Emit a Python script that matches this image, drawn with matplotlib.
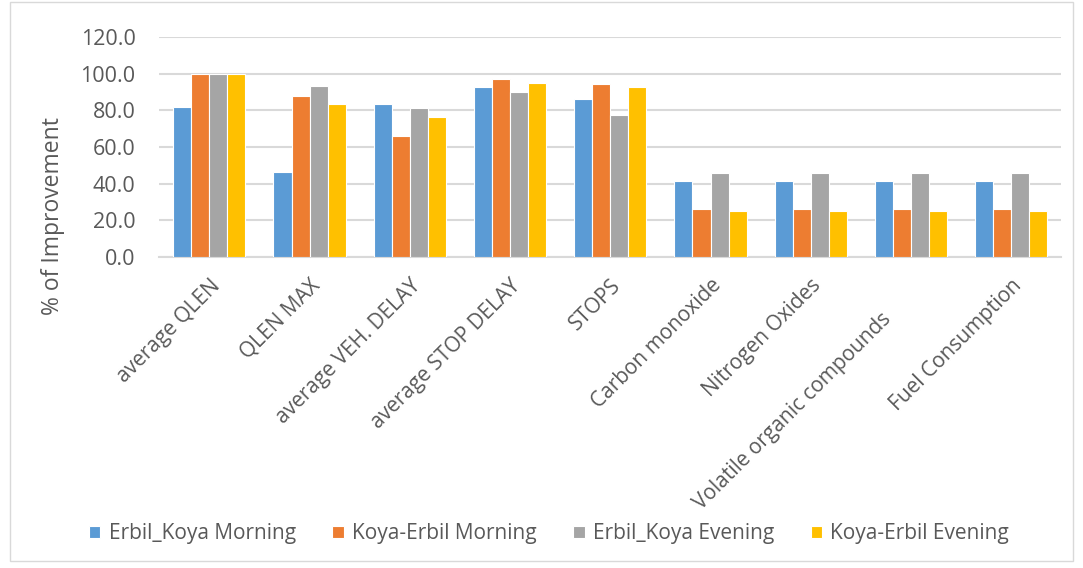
import numpy as np
import matplotlib.pyplot as plt
import matplotlib.transforms as mtransforms
from matplotlib.patches import Rectangle

# data
categories = ['average QLEN', 'QLEN MAX', 'average VEH. DELAY', 'average STOP DELAY',
              'STOPS', 'Carbon monoxide', 'Nitrogen Oxides',
              'Volatile organic compounds', 'Fuel Consumption']
erbil_koya_morning = [81.9, 46.1, 83.5, 92.5, 86.3, 41.3, 41.3, 41.3, 41.3]
koya_erbil_morning = [99.7, 87.8, 65.8, 97.3, 94.1, 26.0, 26.0, 26.0, 26.0]
erbil_koya_evening = [99.7, 93.1, 81.2, 89.8, 77.3, 45.9, 45.9, 45.9, 45.9]
koya_erbil_evening = [99.7, 83.5, 76.4, 94.9, 92.9, 24.9, 24.9, 24.9, 24.9]

series = [('Erbil_Koya Morning', erbil_koya_morning, '#5b9bd5'),
          ('Koya-Erbil Morning', koya_erbil_morning, '#ed7d31'),
          ('Erbil_Koya Evening', erbil_koya_evening, '#a5a5a5'),
          ('Koya-Erbil Evening', koya_erbil_evening, '#ffc000')]

plt.rcParams['font.family'] = ['Open Sans', 'DejaVu Sans']

fig = plt.figure(figsize=(10.83, 5.68), dpi=100)
ax = fig.add_axes([0.147, 0.5475, 0.833, 0.3875])

x = np.arange(len(categories))
w = 0.18
for i, (name, vals, col) in enumerate(series):
    ax.bar(x + (i - 1.5) * w, vals, width=w, color=col, edgecolor='white',
           linewidth=0.8, label=name, zorder=3)

ax.set_xlim(-0.5, len(categories) - 0.5)
ax.set_ylim(0, 120)
ax.set_yticks(np.arange(0, 121, 20))
ax.set_yticklabels(['%.1f' % v for v in np.arange(0, 121, 20)], fontsize=15.5, color='#595959')
ax.set_xticks(x)
ax.set_xticklabels(categories, rotation=45, ha='right', va='top', rotation_mode='anchor',
                   fontsize=15, color='#595959')
ax.tick_params(axis='y', length=0, pad=17)
ax.tick_params(axis='x', length=0, pad=13)
ax.grid(axis='y', color='#d9d9d9', linewidth=1.5, zorder=0)
for s in ['left', 'right', 'top']:
    ax.spines[s].set_visible(False)
ax.spines['bottom'].set_color('#d9d9d9')
ax.spines['bottom'].set_linewidth(1.5)

# excel pushed this long label a bit lower/left
lab = ax.get_xticklabels()[7]
lab.set_transform(lab.get_transform() + mtransforms.ScaledTranslation(-0.3, -0.34, fig.dpi_scale_trans))

fig.text(0.049, 0.62, '% of Improvement', rotation=90, ha='center', va='center',
         fontsize=16.5, color='#595959')

fig.legend(loc='center', bbox_to_anchor=(0.507, 0.06), ncol=4, frameon=False,
           fontsize=15, handlelength=0.55, handleheight=0.55, columnspacing=1.75,
           handletextpad=0.4, labelcolor='#595959')

fig.patches.append(Rectangle((0.009, 0.012), 0.982, 0.985, transform=fig.transFigure,
                             fill=False, edgecolor='#d9d9d9', linewidth=1))

fig.savefig('out.png', dpi=100)
